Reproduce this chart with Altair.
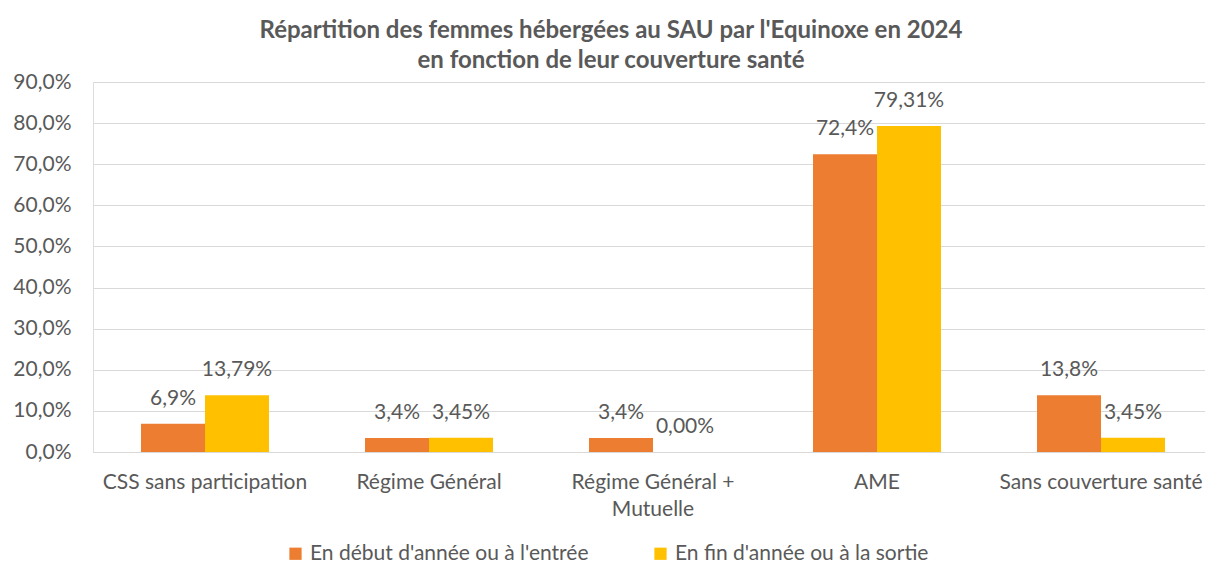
import altair as alt
import pandas as pd

categories = ["CSS sans participation", "Régime Général", "Régime Général + Mutuelle", "AME", "Sans couverture santé"]
series = ["En début d'année ou à l'entrée", "En fin d'année ou à la sortie"]
debut = [0.069, 0.034, 0.034, 0.724, 0.138]
fin = [0.1379, 0.0345, 0.0, 0.7931, 0.0345]
debut_labels = ["6,9%", "3,4%", "3,4%", "72,4%", "13,8%"]
fin_labels = ["13,79%", "3,45%", "0,00%", "79,31%", "3,45%"]
colors = ["#ED7D31", "#FFC000"]

rows = []
for i, c in enumerate(categories):
    rows.append({"cat": c, "serie": series[0], "value": debut[i], "label": debut_labels[i]})
    rows.append({"cat": c, "serie": series[1], "value": fin[i], "label": fin_labels[i]})
df = pd.DataFrame(rows)

FONT = "Lato"
TXT = "#595959"
FS = 21

x_enc = alt.X("cat:N", sort=categories, title=None,
              scale=alt.Scale(paddingInner=0.4286, paddingOuter=0.2143, range=[0, 1120]),
              axis=alt.Axis(labelAngle=0, labelFont=FONT, labelFontSize=FS, labelColor=TXT,
                            labelPadding=19, labelLineHeight=27, ticks=False, domainColor="#D9D9D9",
                            domainWidth=1, grid=False, labelLimit=400,
                            labelExpr="datum.label == 'Régime Général + Mutuelle' ? ['Régime Général +', 'Mutuelle'] : datum.label"))
xoff = alt.XOffset("serie:N", sort=series, scale=alt.Scale(paddingInner=0, paddingOuter=0))

bars = alt.Chart(df).mark_bar().encode(
    x=x_enc,
    xOffset=xoff,
    y=alt.Y("value:Q", title=None,
            scale=alt.Scale(domain=[0, 0.9], nice=False),
            axis=alt.Axis(values=[i / 10 for i in range(10)], labelFont=FONT, labelFontSize=FS,
                          labelColor=TXT, labelPadding=22, ticks=False, domain=False,
                          gridColor="#D9D9D9", gridWidth=1,
                          labelExpr="replace(format(datum.value, '.1%'), '.', ',')")),
    color=alt.Color("serie:N", sort=series, title=None,
                    scale=alt.Scale(domain=series, range=colors),
                    legend=alt.Legend(orient="none", legendX=192, legendY=461, direction="horizontal",
                                      symbolType="square", symbolSize=150, symbolStrokeWidth=0,
                                      labelFont=FONT, labelFontSize=FS, labelColor=TXT,
                                      labelOffset=4, columnPadding=61, padding=0, labelLimit=500)),
)

texts = alt.Chart(df).mark_text(font=FONT, fontSize=FS, color=TXT, baseline="middle", dy=-25).encode(
    x=alt.X("cat:N", sort=categories),
    xOffset=xoff,
    y="value:Q",
    text="label:N",
)

chart = (bars + texts).properties(
    width=1112, height=370,
    autosize=alt.AutoSizeParams(type="none"),
    padding={"left": 85, "top": 74, "right": 0, "bottom": 115},
    title=alt.Title(["Répartition des femmes hébergées au SAU par l'Equinoxe en 2024",
                     "en fonction de leur couverture santé"],
                    font=FONT, fontSize=24, fontWeight="bold", color=TXT, anchor="middle",
                    lineHeight=30, offset=1, dx=-38, dy=3),
).configure_view(stroke=None).configure(background="white")

chart.save("out.html", embed_options={"renderer": "svg", "actions": False})
